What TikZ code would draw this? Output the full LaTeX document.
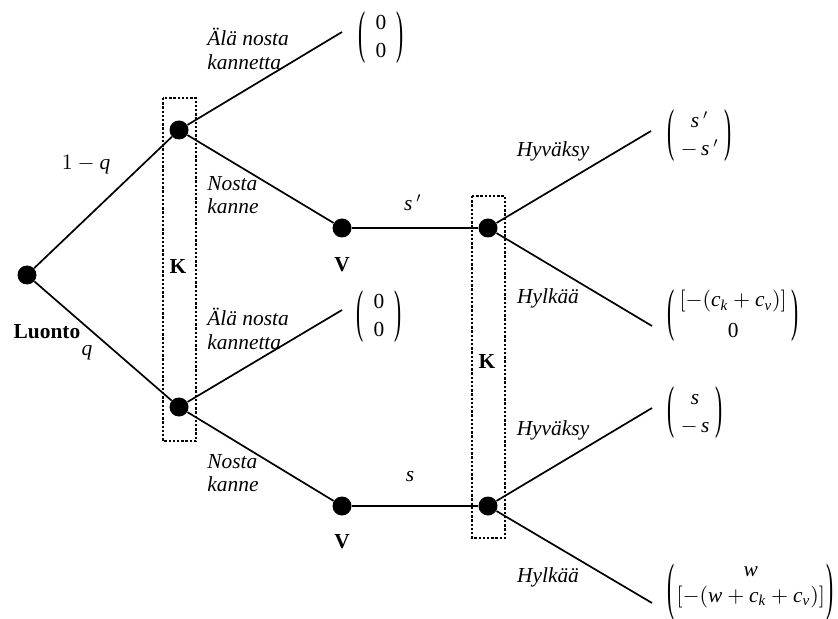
\documentclass[tikz,border=0pt]{standalone}
\usepackage{amsmath}
\usepackage{graphicx}
\usepackage{fontspec}
\setmainfont{Liberation Serif}
\newcommand\mi[1]{\text{\itshape #1}}
\newcommand\lpar[1]{\vcenter{\hbox{\scalebox{1}[#1]{(}}}}
\newcommand\rpar[1]{\vcenter{\hbox{\scalebox{1}[#1]{)}}}}
\newcommand\pay[4]{$\renewcommand\arraystretch{#3}\setlength\arraycolsep{#4}\lpar{2.7}\begin{array}{c}#1\\\relax #2\end{array}\rpar{2.7}$}
\tikzset{
  dot/.style={circle,fill=black,inner sep=0pt,minimum size=9.5pt},
  edge/.style={line width=0.85pt},
  kbox/.style={line width=1.3pt,dash pattern=on 1.2pt off 0.9pt},
  every node/.style={font=\fontsize{10.7}{11.8}\selectfont},
  lab/.style={inner sep=0pt,font=\fontsize{10.7}{11.8}\selectfont\itshape},
  labl/.style={lab,anchor=west,align=left},
  bold/.style={inner sep=0pt,font=\fontsize{10.7}{11.8}\selectfont\bfseries},
  payl/.style={inner sep=0pt,anchor=west}
}
\begin{document}
\begin{tikzpicture}[x=0.5pt,y=-0.5pt]
\useasboundingbox (0,0) rectangle (838,619);
% decision nodes
\node[dot] (root) at (27,275) {};
\node[dot] (k1) at (179,130) {};
\node[dot] (k2) at (179,407) {};
\node[dot] (v1) at (342,228) {};
\node[dot] (v2) at (342,506) {};
\node[dot] (c1) at (488,228) {};
\node[dot] (c2) at (488,506) {};
% free ends
\coordinate (e1) at (342,32);
\coordinate (e2) at (342,310);
\coordinate (h1) at (651,131);
\coordinate (r1) at (652,326);
\coordinate (h2) at (652,408);
\coordinate (r2) at (652,603);
% edges
\draw[edge] (root) -- (k1);
\draw[edge] (root) -- (k2);
\draw[edge] (k1) -- (e1);
\draw[edge] (k1) -- (v1);
\draw[edge] (k2) -- (e2);
\draw[edge] (k2) -- (v2);
\draw[edge] (v1) -- (c1);
\draw[edge] (v2) -- (c2);
\draw[edge] (c1) -- (h1);
\draw[edge] (c1) -- (r1);
\draw[edge] (c2) -- (h2);
\draw[edge] (c2) -- (r2);
% information sets
\draw[kbox] (163,98) rectangle (196,441);
\draw[kbox] (472,196) rectangle (505,538);
% labels
\node[bold] (luonto) at (47,332) {Luonto};
\node[lab] (q) at (87,353) {$\mi{q}$};
\node[lab] (oneq) at (86,165) {$1-\mi{q}$};
\node[bold] (K1) at (178,266) {K};
\node[bold] (K2) at (487,361) {K};
\node[bold] (V1) at (342,265) {V};
\node[bold] (V2) at (342,542) {V};
\node[lab] (sp) at (413,203) {$\mi{s}\,'$};
\node[lab] (s) at (410,477) {$\mi{s}$};
\node[labl] (ala1) at (207,49) {Älä nosta\\kannetta};
\node[labl] (ala2) at (207,329) {Älä nosta\\kannetta};
\node[labl] (nos1) at (207,195) {Nosta\\kanne};
\node[labl] (nos2) at (207,473) {Nosta\\kanne};
\node[lab] (hy1) at (553,151) {Hyväksy};
\node[lab] (hl1) at (548,298) {Hylkää};
\node[lab] (hy2) at (553,430) {Hyväksy};
\node[lab] (hl2) at (548,577) {Hylkää};
% payoffs
\node[payl] (p1) at (358,38) {\pay{\text{0}}{\text{0}}{1.2}{5pt}};
\node[payl] (p2) at (356,317) {\pay{\text{0}}{\text{0}}{1.2}{5pt}};
\node[payl] (p3) at (667,136) {\pay{\mi{s}\,'}{-\,\mi{s}\,'}{1.17}{3pt}};
\node[payl] (p4) at (667,316) {\pay{[-(\mi{c}_{\mi{k}}+\mi{c}_{\mi{v}})]}{\text{0}}{1.28}{2.5pt}};
\node[payl] (p5) at (667,413) {\pay{\mi{s}}{-\,\mi{s}}{1.17}{3pt}};
\node[payl] (p6) at (667,592) {$\renewcommand\arraystretch{0.72}\setlength\arraycolsep{1pt}\lower3pt\hbox{$\lpar{2.95}$}\begin{array}{c}\mi{w}\\[2.3pt]\relax [-(\mi{w}+\mi{c}_{\mi{k}}+\mi{c}_{\mi{v}})]\end{array}\lower3pt\hbox{$\rpar{2.95}$}$};
\end{tikzpicture}
\end{document}
